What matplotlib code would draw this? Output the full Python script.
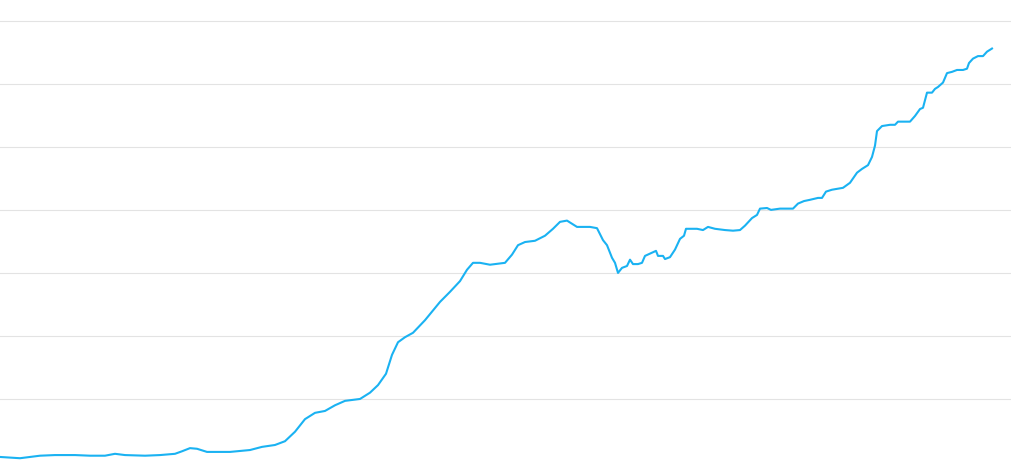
import matplotlib
matplotlib.use("Agg")
import matplotlib.pyplot as plt

x = [0, 20, 40, 55, 75, 90, 105, 115, 125, 145, 160, 175, 182, 190, 197, 207, 230, 250, 262, 275,
     285, 295, 305, 315, 325, 335, 345, 360, 370, 378, 386, 392, 398, 405, 413, 425, 440, 450, 460, 467,
     473, 480, 490, 505, 512, 518, 525, 535, 545, 553, 560, 567, 577, 590, 597, 603, 607, 612, 615, 618,
     622, 627, 630, 633, 638, 642, 645, 652, 656, 658, 663, 665, 670, 675, 680, 684, 686, 697, 703, 708,
     715, 725, 733, 740, 745, 752, 757, 760, 767, 771, 780, 793, 798, 804, 810, 818, 822, 826, 832, 843,
     850, 857, 862, 868, 872, 875, 877, 882, 890, 895, 898, 910, 915, 920, 923, 927, 932, 935, 938, 943,
     947, 952, 957, 963, 967, 969, 973, 978, 983, 987, 992]
values = [8, 6, 10, 11, 11, 10, 10, 13, 11, 10, 11, 13, 17, 22, 21, 16, 16, 19, 24, 27,
          33, 48, 68, 78, 81, 90, 97, 100, 110, 122, 140, 170, 190, 198, 205, 225, 254, 270, 287, 305,
          316, 316, 313, 316, 329, 344, 349, 351, 359, 370, 381, 383, 373, 373, 371, 352, 344, 324, 316, 300,
          308, 311, 321, 314, 314, 316, 327, 332, 335, 327, 327, 322, 325, 337, 354, 359, 370, 370, 368, 373,
          370, 368, 367, 368, 375, 387, 392, 402, 403, 400, 402, 402, 410, 414, 416, 419, 419, 429, 432, 435,
          443, 459, 465, 471, 484, 502, 525, 533, 535, 535, 540, 540, 549, 560, 562, 586, 586, 592, 595, 602,
          617, 619, 622, 622, 624, 633, 640, 644, 644, 651, 656]
grid_levels = [100, 200, 300, 400, 500, 600, 700]

fig = plt.figure(figsize=(10.12, 4.62), dpi=100)
ax = fig.add_axes([0, 0, 1, 1])
for g in grid_levels:
    ax.axhline(g, color="#e3e3e3", lw=0.8, zorder=1)
ax.plot(x, values, color="#1ab2f2", lw=1.5, zorder=3, solid_joinstyle="round")
ax.set_xlim(0, 1012)
ax.set_ylim(0, 733)
ax.axis("off")
fig.savefig("out.png", dpi=100, facecolor="white")
